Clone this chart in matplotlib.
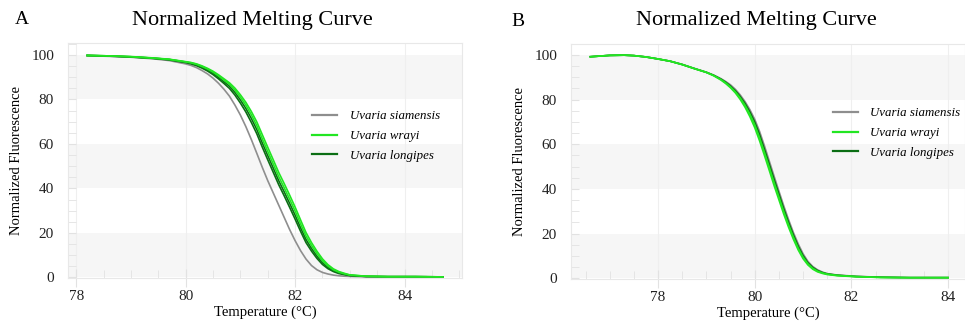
import matplotlib
matplotlib.use("Agg")
import matplotlib.pyplot as plt
from matplotlib.ticker import MultipleLocator

plt.rcParams['font.family'] = ['Liberation Serif', 'DejaVu Serif']

# Panel A data
temp_a = [78.2, 78.6, 79.0, 79.4, 79.7,
          80.0, 80.1, 80.2, 80.3, 80.4, 80.5, 80.6, 80.7, 80.8, 80.9,
          81.0, 81.1, 81.2, 81.3, 81.4, 81.5, 81.6, 81.7, 81.8, 81.9,
          82.0, 82.1, 82.2, 82.3, 82.4, 82.5, 82.6, 82.7, 82.8, 82.9,
          83.0, 83.3, 83.7, 84.2, 84.7]
siam_a = [99.7, 99.4, 99.0, 98.3, 97.5,
          96.0, 95.3, 94.3, 93.0, 91.5, 89.6, 87.3, 84.6, 81.5, 77.5,
          73.0, 67.8, 62.0, 55.8, 49.5, 43.5, 38.0, 32.5, 27.0, 21.5,
          16.5, 12.0, 8.2, 5.3, 3.4, 2.2, 1.5, 1.0, 0.7, 0.5,
          0.4, 0.2, 0.2, 0.2, 0.1]
long1_a = [99.8, 99.5, 99.1, 98.5, 97.8,
           96.6, 96.0, 95.2, 94.1, 92.8, 91.2, 89.3, 87.2, 85.0, 82.0,
           78.4, 74.4, 69.7, 64.6, 58.6, 52.9, 47.3, 41.7, 36.7, 31.5,
           26.2, 20.7, 15.6, 11.8, 8.5, 5.8, 3.9, 2.6, 1.7, 1.2,
           0.8, 0.4, 0.3, 0.3, 0.2]
long2_a = [99.8, 99.6, 99.2, 98.6, 98.0,
           96.8, 96.3, 95.5, 94.5, 93.3, 91.8, 90.0, 88.0, 86.0, 83.2,
           79.8, 76.0, 71.5, 66.5, 60.5, 54.8, 49.2, 43.5, 38.5, 33.3,
           28.0, 22.3, 17.0, 13.0, 9.5, 6.6, 4.5, 3.0, 2.0, 1.4,
           0.9, 0.4, 0.3, 0.3, 0.2]
wray1_a = [99.8, 99.6, 99.2, 98.6, 98.0,
           96.9, 96.5, 95.8, 94.8, 93.7, 92.3, 90.6, 88.7, 86.8, 84.2,
           81.0, 77.4, 73.1, 68.2, 62.3, 56.6, 51.0, 45.3, 40.3, 35.1,
           29.8, 24.0, 18.5, 14.3, 10.6, 7.4, 5.1, 3.4, 2.3, 1.6,
           1.0, 0.5, 0.3, 0.3, 0.2]
wray2_a = [99.8, 99.6, 99.3, 98.7, 98.1,
           97.0, 96.6, 96.0, 95.1, 94.0, 92.7, 91.1, 89.3, 87.5, 85.1,
           82.1, 78.7, 74.6, 69.9, 64.2, 58.5, 52.9, 47.2, 42.2, 37.0,
           31.6, 25.8, 20.1, 15.6, 11.7, 8.3, 5.7, 3.8, 2.6, 1.8,
           1.1, 0.5, 0.3, 0.3, 0.2]

# Panel B data
temp_b = [76.6, 76.8, 77.0, 77.3, 77.5, 77.75, 78.0, 78.25, 78.5, 78.75, 79.0, 79.15,
          79.3, 79.4, 79.5, 79.6, 79.7, 79.8, 79.9, 80.0, 80.1, 80.2, 80.3, 80.4,
          80.5, 80.6, 80.7, 80.8, 80.9, 81.0, 81.1, 81.2, 81.3, 81.4, 81.5,
          81.7, 82.1, 82.6, 83.2, 84.0]
wray1_b = [99.2, 99.5, 99.8, 99.9, 99.7, 99.1, 98.2, 97.2, 95.7, 93.9, 92.2, 90.7,
           88.8, 87.2, 85.3, 83.0, 80.1, 76.6, 72.4, 67.5, 61.6, 55.1, 48.4, 41.6,
           35.2, 28.8, 22.9, 17.5, 12.7, 8.8, 6.0, 4.1, 2.9, 2.2, 1.7,
           1.2, 0.7, 0.4, 0.3, 0.3]
wray2_b = [99.2, 99.5, 99.8, 99.9, 99.7, 99.1, 98.2, 97.2, 95.7, 93.9, 92.2, 90.8,
           89.0, 87.5, 85.7, 83.5, 80.8, 77.5, 73.5, 68.8, 63.0, 56.5, 49.8, 43.0,
           36.5, 30.0, 24.0, 18.5, 13.5, 9.5, 6.5, 4.5, 3.2, 2.4, 1.9,
           1.3, 0.8, 0.4, 0.3, 0.3]
long_b = [99.2, 99.5, 99.8, 99.9, 99.7, 99.1, 98.2, 97.2, 95.7, 93.9, 92.2, 90.9,
          89.2, 87.8, 86.1, 84.0, 81.4, 78.3, 74.5, 70.0, 64.4, 57.9, 51.2, 44.4,
          37.8, 31.2, 25.1, 19.5, 14.4, 10.2, 7.0, 4.9, 3.5, 2.6, 2.0,
          1.4, 0.8, 0.5, 0.3, 0.3]
siam_b = [99.2, 99.5, 99.8, 99.9, 99.7, 99.1, 98.2, 97.2, 95.8, 94.0, 92.3, 91.0,
          89.4, 88.1, 86.6, 84.6, 82.1, 79.1, 75.5, 71.2, 65.8, 59.4, 52.6, 45.8,
          39.1, 32.5, 26.3, 20.5, 15.4, 11.0, 7.6, 5.3, 3.8, 2.8, 2.1,
          1.5, 0.9, 0.5, 0.3, 0.3]

labels = ["Uvaria siamensis", "Uvaria wrayi", "Uvaria longipes"]
c_gray = "#8e8e8e"
c_bright = "#22e622"
c_dark = "#0b6e14"
lw = 1.2

W, H = 965, 331
fig = plt.figure(figsize=(W / 100, H / 100), dpi=100)


def style_axes(ax, xlim, ylim):
    ax.set_xlim(*xlim)
    ax.set_ylim(*ylim)
    for y0 in (0, 40, 80):
        ax.axhspan(y0, y0 + 20, color="#f6f6f6", zorder=0, lw=0)
    ax.xaxis.set_major_locator(MultipleLocator(2))
    ax.xaxis.set_minor_locator(MultipleLocator(0.5))
    ax.yaxis.set_major_locator(MultipleLocator(20))
    ax.yaxis.set_minor_locator(MultipleLocator(5))
    ax.grid(axis="x", which="major", color="#efefef", lw=0.8, zorder=0)
    ax.tick_params(axis="x", which="major", direction="inout", length=13, color="#e2e2e2",
                   labelsize=11, pad=2, labelcolor="#222222")
    ax.tick_params(axis="x", which="minor", direction="in", length=6, color="#e2e2e2")
    ax.tick_params(axis="y", which="both", direction="in", length=6, color="#e2e2e2",
                   labelsize=11, pad=10, labelcolor="#222222")
    for s in ax.spines.values():
        s.set_color("#e8e8e8")
        s.set_linewidth(0.8)
    ax.set_xlabel("Temperature (°C)", fontsize=10.5, labelpad=2)
    ax.set_ylabel("Normalized Fluorescence", fontsize=10.5, labelpad=6)


# Panel A
ax1 = fig.add_axes([68 / W, 1 - 278 / H, 394 / W, 235 / H])
style_axes(ax1, (77.85, 85.05), (-0.3, 105.4))
ax1.plot(temp_a, siam_a, color=c_gray, lw=lw, label=labels[0])
ax1.plot(temp_a, long1_a, color=c_dark, lw=lw)
ax1.plot(temp_a, long2_a, color=c_dark, lw=lw, label=labels[2])
ax1.plot(temp_a, wray1_a, color=c_bright, lw=lw, label=labels[1])
ax1.plot(temp_a, wray2_a, color=c_bright, lw=lw)

# Panel B
ax2 = fig.add_axes([571 / W, 1 - 279 / H, 394 / W, 235 / H])
style_axes(ax2, (76.2, 84.35), (-0.3, 104.9))
ax2.plot(temp_b, siam_b, color=c_gray, lw=lw, label=labels[0])
ax2.plot(temp_b, long_b, color=c_dark, lw=lw, label=labels[2])
ax2.plot(temp_b, wray2_b, color=c_bright, lw=lw, label=labels[1])
ax2.plot(temp_b, wray1_b, color=c_bright, lw=lw)

for ax, anchor in ((ax1, (0.62, 0.604)), (ax2, (0.665, 0.621))):
    h, l = ax.get_legend_handles_labels()
    order = [l.index(name) for name in labels]
    leg = ax.legend([h[i] for i in order], [l[i] for i in order], loc="center left",
                    bbox_to_anchor=anchor, frameon=False, borderpad=0, borderaxespad=0,
                    handlelength=1.9, handletextpad=1.0, labelspacing=0.6,
                    prop={"style": "italic", "size": 9.3})
    for line in leg.get_lines():
        line.set_linewidth(1.6)

fig.text(22 / W, 1 - 19 / H, "A", fontsize=14, ha="center", va="center")
fig.text(518 / W, 1 - 22 / H, "B", fontsize=14, ha="center", va="center")
fig.text(252 / W, 1 - 20 / H, "Normalized Melting Curve", fontsize=16, ha="center", va="center")
fig.text(756 / W, 1 - 21 / H, "Normalized Melting Curve", fontsize=16, ha="center", va="center")

fig.savefig("out.png", dpi=100)
